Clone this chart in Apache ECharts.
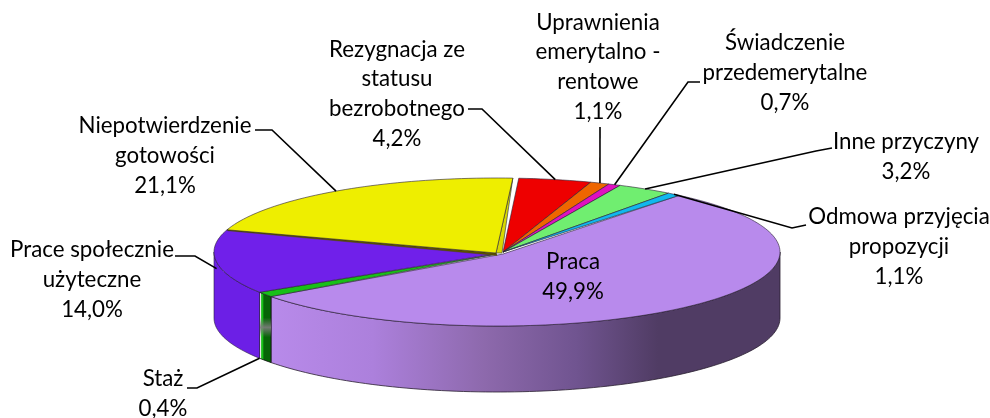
<!DOCTYPE html>
<html><head><meta charset="utf-8">
<style>html,body{margin:0;padding:0;background:#fff}#c{width:990px;height:418px}</style>
<script src="https://cdn.jsdelivr.net/npm/echarts@6/dist/echarts.min.js"></script>
</head><body><div id="c"></div>
<script>
const categories = ['Praca','Staż','Prace społecznie użyteczne','Niepotwierdzenie gotowości','Rezygnacja ze statusu bezrobotnego','Uprawnienia emerytalno - rentowe','Świadczenie przedemerytalne','Inne przyczyny','Odmowa przyjęcia propozycji'];
const labelLines = [['Praca'],['Staż'],['Prace społecznie','użyteczne'],['Niepotwierdzenie','gotowości'],['Rezygnacja ze','statusu','bezrobotnego'],['Uprawnienia','emerytalno -','rentowe'],['Świadczenie','przedemerytalne'],['Inne przyczyny'],['Odmowa przyjęcia','propozycji']];
const values = [49.9,0.4,14.0,21.1,4.2,1.1,0.7,3.2,1.1];
const colors = ['#b88aec','#18c018','#7020ea','#eeee00','#ee0000','#ee6600','#e010c0','#70ee70','#10b8ee'];

// layout (not data)
const CX=497, CY=252, RX=283, RY=74, DEPTH=66, START=39.3;
const apex = [[503,254],[497,254],[494,254],[496,253],[503,252],[503,252],[503,252],[503,252],[503,252]];
const labelPos = [[573,277],[163,394],[92,280],[165,156],[397,94],[598,67],[785,73],[906,157],[899,247]];
const elbows = [null,[[187,388],[197,388]],[[175,256],[195,256]],[[255,130],[272,130]],[[468,109],[482,109]],[[600,127],[600,127]],[[700,82],[688,82]],[[832,148],[816,151]],[[806,225],[792,228]]];
const tipDrop = [0,1,0.1,0,0,0,0,0,0];
const tipFrac = [0.5,1,0.5,0.5,0.5,0.5,0.5,0.5,0.5];
const slide = [0,0,0,0,1.2,1.2,1.2,1.2,0];
const total = values.reduce((a,b)=>a+b,0);
const warp = t => t + 6.5*(1+Math.cos((t-260)*Math.PI/180))/2;
const rim = (deg,drop) => {const r=deg*Math.PI/180;return [CX+RX*Math.sin(r),CY-RY*Math.cos(r)+(drop||0)];};
const bounds=[];let acc=START;
values.forEach((v,i)=>{const a=acc;acc+=v/total*360;bounds.push([warp(a)+slide[i],warp(acc)+slide[i]]);});
bounds[1][1]+=2.5;bounds[2][0]+=2.5;bounds[8][0]=bounds[7][1];
const arc=(a,b,drop)=>{const n=Math.max(2,Math.ceil(Math.abs(b-a)/1.5));const p=[];for(let i=0;i<=n;i++)p.push(rim(a+(b-a)*i/n,drop));return p;};
const wall=(a,b)=>arc(a,b,0).concat(arc(b,a,DEPTH));

function renderItem(params,api){
  const i=params.dataIndex;
  api.value(0);
  const [a,b]=bounds[i];
  const kids=[];
  const edge={stroke:'rgba(40,30,50,0.75)',lineWidth:0.8};
  if(i===0){
    kids.push({type:'polygon',shape:{points:wall(90,b)},style:{fill:{type:'linear',x:0,y:0,x2:1,y2:0,colorStops:[{offset:0,color:'#b88aea'},{offset:0.2,color:'#ac80dc'},{offset:0.42,color:'#8d69ac'},{offset:0.6,color:'#705490'},{offset:0.76,color:'#503c64'},{offset:1,color:'#503c64'}]},stroke:'#2a2030',lineWidth:0.8}});
  }
  if(i===1){
    const w=wall(a,b);
    kids.push({type:'polygon',shape:{points:w},style:{fill:{type:'linear',x:0,y:0,x2:1,y2:0,colorStops:[{offset:0,color:'#f4f4f4'},{offset:0.12,color:'#f4f4f4'},{offset:0.2,color:'#18c018'},{offset:0.3,color:'#18c018'},{offset:0.38,color:'#066406'},{offset:1,color:'#066406'}]},stroke:'#111',lineWidth:0.8}});
    kids.push({type:'polygon',shape:{points:w},style:{fill:{type:'linear',x:0,y:0,x2:0,y2:1,colorStops:[{offset:0,color:'rgba(120,120,120,0)'},{offset:0.36,color:'rgba(120,120,120,0)'},{offset:0.5,color:'rgba(125,125,125,0.9)'},{offset:0.64,color:'rgba(120,120,120,0)'},{offset:1,color:'rgba(120,120,120,0)'}]}}});
  }
  if(i===2){
    kids.push({type:'polygon',shape:{points:wall(a,270)},style:{fill:'#6c1fe6',stroke:'#2a2040',lineWidth:0.6}});
  }
  if(i===3){
    const e=rim(b);
    kids.push({type:'polygon',shape:{points:[e,apex[i],[apex[i][0]+6,apex[i][1]]]},style:{fill:'#d8d800',stroke:'#444',lineWidth:0.7}});
    const s=rim(a);
    kids.push({type:'polygon',shape:{points:[s,apex[i],[apex[i][0]+1,apex[i][1]+2.5],[s[0]+1,s[1]+1]]},style:{fill:'#5a5200',stroke:'#4a4400',lineWidth:0.4}});
  }
  kids.push({type:'polygon',shape:{points:arc(a,b,0).concat([apex[i]])},style:{fill:api.visual('color')||colors[i],stroke:edge.stroke,lineWidth:edge.lineWidth}});
  if(elbows[i]){
    const m=a+(b-a)*tipFrac[i];
    const t=rim(m,DEPTH*tipDrop[i]);
    kids.push({type:'polyline',shape:{points:elbows[i].concat([t])},style:{fill:'none',stroke:'#000',lineWidth:1.6},z2:20});
  }
  const txt=labelLines[i].concat([values[i].toFixed(1).replace('.',',')+'%']).join('\n');
  kids.push({type:'text',z2:30,style:{text:txt,x:labelPos[i][0],y:labelPos[i][1],align:'center',verticalAlign:'middle',font:'22.3px Lato, "Noto Sans", sans-serif',lineHeight:29.7,fill:'#000'}});
  return {type:'group',children:kids};
}
const chart=echarts.init(document.getElementById('c'),null,{renderer:'canvas'});
chart.setOption({animation:false,backgroundColor:'#fff',
 series:[{type:'custom',coordinateSystem:'none',renderItem,silent:true,
   data:values.map((v,i)=>({name:categories[i],value:[v],itemStyle:{color:colors[i]}}))}]});
</script></body></html>
